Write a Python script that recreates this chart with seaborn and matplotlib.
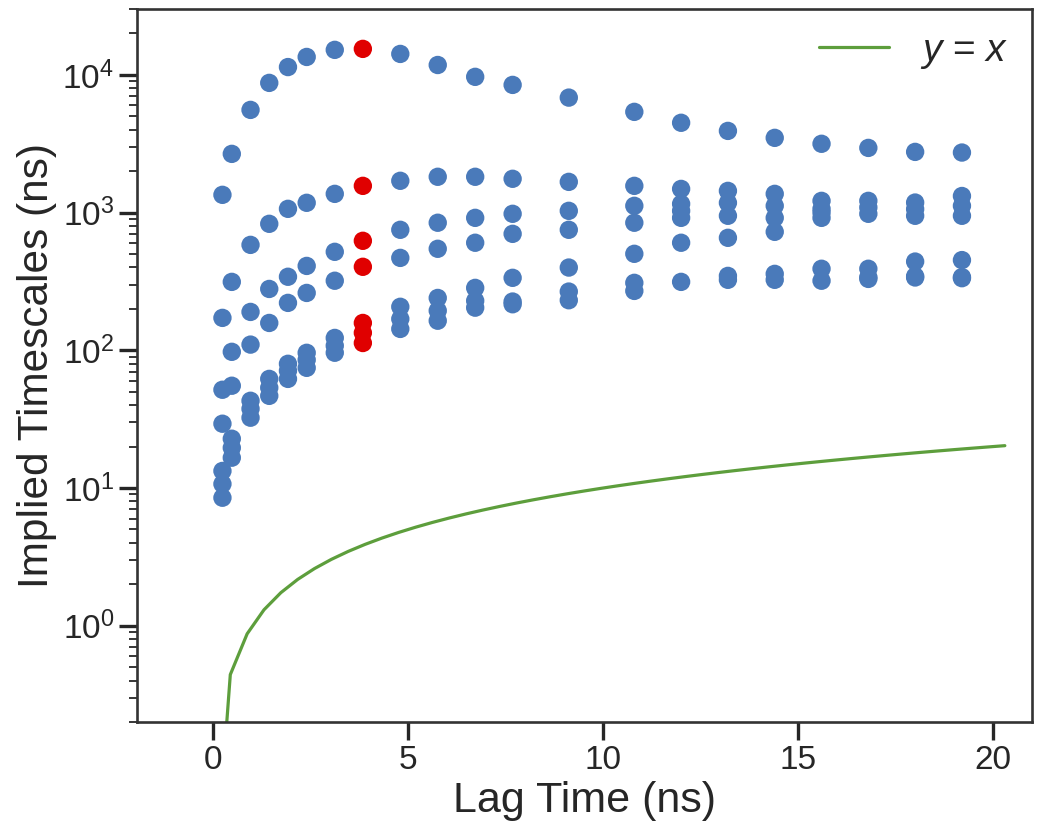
import numpy as np
import pandas as pd
import seaborn as sns
import matplotlib
matplotlib.use("Agg")
from matplotlib import pyplot as plt

# lag times (ns) and the 7 slowest implied timescales (ns) per lag
lag_ns = [0.24, 0.48, 0.96, 1.44, 1.92, 2.40, 3.12, 3.84, 4.80, 5.76, 6.72,
          7.68, 9.12, 10.80, 12.00, 13.20, 14.40, 15.60, 16.80, 18.00, 19.20]

ts1 = [1346, 2670, 5570, 8750, 11400, 13500, 15200, 15450, 14200, 11800, 9680,
       8460, 6840, 5390, 4490, 3920, 3490, 3160, 2950, 2760, 2730]
ts2 = [172, 314, 583, 829, 1065, 1178, 1368, 1564, 1702, 1820, 1820,
       1760, 1672, 1564, 1486, 1438, 1368, 1217, 1217, 1183, 1320]
ts3 = [51.7, 97.5, 190, 279, 342, 410, 519, 624, 750, 844, 916,
       980, 1030, 1120, 1157, 1178, 1120, 1065, 1090, 1060, 1120]
ts4 = [29.3, 55.3, 110, 158, 221, 261, 320, 404, 469, 546, 604,
       701, 750, 844, 1030, 948, 916, 1000, 980, 948, 948]
ts5 = [13.3, 22.8, 43, 62, 79.8, 95.9, 123, 158, 207, 240, 284,
       336, 399, 502, 916, 656, 725, 916, 391, 441, 452]
ts6 = [10.7, 19.6, 37.6, 53.5, 71, 85.3, 108, 134, 169, 194, 229,
       226, 267, 309, 604, 347, 359, 391, 340, 345, 340]
ts7 = [8.5, 16.6, 32.4, 46.7, 62, 74.6, 96, 113, 143, 164, 204,
       216, 231, 270, 314, 325, 325, 320, 330, 338, 334]

chosen_lag = 3.84  # highlighted in red

# reference line y = x
line_x = np.linspace(0.01, 20.3, 48)

sns.set_theme(style="ticks")
plt.rcParams["font.family"] = ["Liberation Sans", "DejaVu Sans"]
plt.rcParams["mathtext.fontset"] = "custom"
plt.rcParams["mathtext.rm"] = "Liberation Sans"
plt.rcParams["mathtext.sf"] = "Liberation Sans"
plt.rcParams["mathtext.it"] = "Liberation Sans:italic"
plt.rcParams["mathtext.bf"] = "Liberation Sans:bold"

rows = []
for ts in [ts1, ts2, ts3, ts4, ts5, ts6, ts7]:
    for lag, t in zip(lag_ns, ts):
        rows.append({"lag": lag, "ts": t, "sel": lag == chosen_lag})
df = pd.DataFrame(rows)

fig, ax = plt.subplots(figsize=(10.5, 8.36), dpi=100)
fig.subplots_adjust(left=0.1305, right=0.983, top=0.989, bottom=0.1364)

sns.scatterplot(data=df, x="lag", y="ts", hue="sel",
                palette={False: "#4a7aba", True: "#e00000"},
                s=175, linewidth=0, legend=False, ax=ax, zorder=3)
ax.plot(line_x, line_x, color="#5d9e3c", lw=2.3, label="$y$ = $x$")

ax.set_yscale("log")
ax.set_ylim(0.2, 3e4)
ax.set_xlim(-1.95, 21.0)
ax.set_xticks([0, 5, 10, 15, 20])

ax.set_xlabel("Lag Time (ns)", fontsize=31, color="#262626")
ax.set_ylabel("Implied Timescales (ns)", fontsize=30.5, color="#262626")

ax.tick_params(axis="both", which="major", length=13, width=2.4,
               labelsize=24, color="#262626", labelcolor="#262626")
ax.tick_params(axis="y", which="minor", length=5.5, width=1.3, color="#262626")
for sp in ax.spines.values():
    sp.set_linewidth(1.9)
    sp.set_color("#333333")

ax.legend(loc="upper right", frameon=False, fontsize=28,
          handlelength=1.8, borderaxespad=0.2)

plt.savefig("out.png", dpi=100)
